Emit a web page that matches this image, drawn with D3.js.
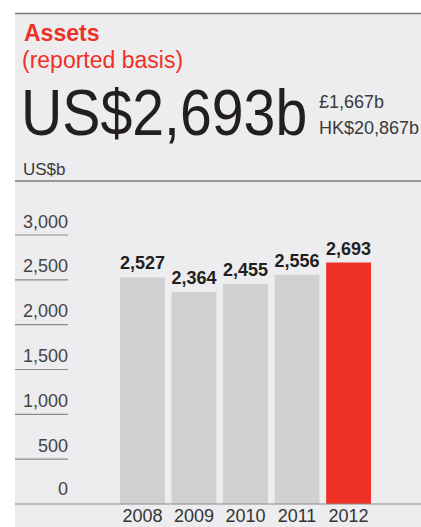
<!DOCTYPE html>
<html>
<head>
<meta charset="utf-8">
<script src="https://cdn.jsdelivr.net/npm/d3@7"></script>
<style>
  body { margin: 0; background: #fff; }
  svg { display: block; font-family: "Liberation Sans", Arial, sans-serif; }
</style>
</head>
<body>
<svg></svg>
<script>
// chart data
var years = ['2008', '2009', '2010', '2011', '2012'];
var assets = [2527, 2364, 2455, 2556, 2693];
var yTicks = [0, 500, 1000, 1500, 2000, 2500, 3000];
var headline = 'US$2,693b';
var otherCurrencies = ['£1,667b', 'HK$20,867b'];

var canvasWidth = 421;
var canvasHeight = 527;
var red = '#ee3124';
var svg = d3.select('svg')
  .attr('width', canvasWidth)
  .attr('height', canvasHeight);

// grey panel
svg.append('rect')
  .attr('x', 15).attr('y', 13)
  .attr('width', canvasWidth - 15).attr('height', canvasHeight - 13)
  .attr('fill', '#ededef');
svg.append('line')
  .attr('x1', 15).attr('x2', canvasWidth)
  .attr('y1', 13.5).attr('y2', 13.5)
  .attr('stroke', '#7a7a7a').attr('stroke-width', 1.5);

// titles
svg.append('text')
  .attr('x', 24).attr('y', 40.5)
  .attr('fill', red)
  .style('font-size', '23px').style('font-weight', 'bold')
  .text('Assets');
svg.append('text')
  .attr('x', 22).attr('y', 67.5)
  .attr('fill', red)
  .style('font-size', '23px')
  .text('(reported basis)');
// big figure, squeezed horizontally to match the narrow face
svg.append('text')
  .attr('transform', 'translate(21,135) scale(0.88,1)')
  .attr('fill', '#231f20')
  .style('font-size', '65px')
  .text(headline);
svg.selectAll('text.other').data(otherCurrencies).enter().append('text')
  .attr('class', 'other')
  .attr('x', 319)
  .attr('y', function(d, i) { return 108 + i * 26; })
  .attr('fill', '#3a3a3a')
  .style('font-size', '18px')
  .text(function(d) { return d; });
svg.append('text')
  .attr('x', 23).attr('y', 175)
  .attr('fill', '#3a3a3a')
  .style('font-size', '17px')
  .text('US$b');
svg.append('line')
  .attr('x1', 15).attr('x2', canvasWidth)
  .attr('y1', 181).attr('y2', 181)
  .attr('stroke', '#7a7a7a').attr('stroke-width', 1.5);

// scales
var yScale = d3.scaleLinear().domain([0, 3000]).range([504, 235]);
var xScale = d3.scaleBand().domain(years).range([120, 371])
  .paddingInner(0.13).paddingOuter(0);

// y ticks: short rule under each label
var ticks = svg.append('g');
ticks.selectAll('line').data(yTicks.filter(function(d) { return d > 0; }))
  .enter().append('line')
  .attr('x1', 15).attr('x2', 68)
  .attr('y1', function(d) { return yScale(d); })
  .attr('y2', function(d) { return yScale(d); })
  .attr('stroke', '#8a8a8a').attr('stroke-width', 1.2);
ticks.selectAll('text').data(yTicks).enter().append('text')
  .attr('x', 68)
  .attr('y', function(d) { return yScale(d) - (d === 0 ? 9 : 7.5); })
  .attr('text-anchor', 'end')
  .attr('fill', '#444')
  .style('font-size', '18px')
  .text(function(d) { return d3.format(',')(d); });

// bars
var bars = svg.append('g');
bars.selectAll('rect').data(assets).enter().append('rect')
  .attr('x', function(d, i) { return xScale(years[i]); })
  .attr('y', function(d) { return yScale(d); })
  .attr('width', xScale.bandwidth())
  .attr('height', function(d) { return yScale(0) - yScale(d); })
  .attr('fill', function(d, i) { return i === years.length - 1 ? red : '#d0d0d2'; });
bars.selectAll('text').data(assets).enter().append('text')
  .attr('x', function(d, i) { return xScale(years[i]) + xScale.bandwidth() / 2; })
  .attr('y', function(d) { return yScale(d) - 8; })
  .attr('text-anchor', 'middle')
  .attr('fill', '#231f20')
  .style('font-size', '18px').style('font-weight', 'bold')
  .text(function(d) { return d3.format(',')(d); });

// baseline and year labels
svg.append('line')
  .attr('x1', 15).attr('x2', canvasWidth)
  .attr('y1', yScale(0)).attr('y2', yScale(0))
  .attr('stroke', '#8a8a8a').attr('stroke-width', 1.2);
svg.append('g').selectAll('text').data(years).enter().append('text')
  .attr('x', function(d) { return xScale(d) + xScale.bandwidth() / 2; })
  .attr('y', 522)
  .attr('text-anchor', 'middle')
  .attr('fill', '#333')
  .style('font-size', '18px')
  .text(function(d) { return d; });
</script>
</body>
</html>
